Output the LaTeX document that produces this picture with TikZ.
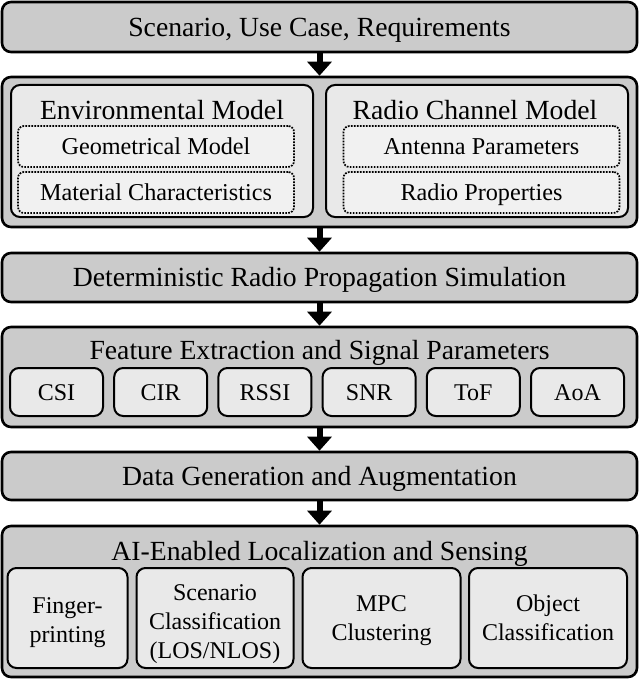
\documentclass[tikz,border=0pt]{standalone}
\usepackage{fontspec}
\setmainfont{Liberation Serif}
\usepackage{xcolor}
\usepackage{tikz}
\usetikzlibrary{arrows.meta,positioning}
\definecolor{stagegray}{RGB}{203,203,203}
\definecolor{cellgray}{RGB}{233,233,233}
\definecolor{dotgray}{RGB}{241,241,241}

\begin{document}
\begin{tikzpicture}[x=1pt, y=-1pt,
  stage/.style={draw=black, line width=2.6pt, fill=stagegray, rounded corners=9pt, inner sep=0pt,
    minimum width=635pt, text height=18.3pt, text depth=0pt, font=\fontsize{27.7}{32}\selectfont},
  heading/.style={inner sep=0pt, anchor=base, font=\fontsize{27.7}{32}\selectfont},
  cell/.style={draw=black, line width=2pt, fill=cellgray, rounded corners=9pt, inner sep=0pt,
    align=center, font=\fontsize{24}{29}\selectfont},
  onecell/.style={cell, text height=16pt, text depth=0pt},
  dotcell/.style={draw=black, line width=1.7pt, dash pattern=on 1.7pt off 1.3pt, fill=dotgray,
    rounded corners=6pt, inner sep=0pt, minimum width=276pt, minimum height=41pt,
    text height=16pt, text depth=0pt, font=\fontsize{24.2}{29}\selectfont},
  flow/.style={line width=6pt, -{Triangle[width=24pt,length=14pt]}}]
\useasboundingbox (0,0) rectangle (640,679);

\node[stage, minimum height=50pt] (scen) at (319.5,27) {Scenario, Use Case, Requirements};

\node[stage, minimum height=150pt] (models) at (319.5,152) {};
\node[cell, minimum width=302pt, minimum height=132pt] (env) at (162,151) {};
\node[heading] (envT) at (162,120) {Environmental Model};
\node[dotcell] (geo) at (156,146.5) {Geometrical Model};
\node[dotcell] (mat) at (156,192.5) {Material Characteristics};
\node[cell, minimum width=302pt, minimum height=132pt] (radio) at (477,151) {};
\node[heading] (radioT) at (475,120) {Radio Channel Model};
\node[dotcell] (ant) at (481.5,146.5) {Antenna Parameters};
\node[dotcell] (rprop) at (481.5,192.5) {Radio Properties};

\node[stage, minimum height=49pt] (sim) at (319.5,277.5) {Deterministic Radio Propagation Simulation};

\node[stage, minimum height=100pt] (feat) at (319.5,377) {};
\node[heading] (featT) at (319.5,359) {Feature Extraction and Signal Parameters};
\foreach \lbl [count=\i] in {CSI,CIR,RSSI,SNR,ToF,AoA}
  \node[onecell, minimum width=93pt, minimum height=48pt] (sig\i) at ({56.5+104.2*(\i-1)},392) {\lbl};

\node[stage, minimum height=48pt] (data) at (319.5,476) {Data Generation and Augmentation};

\node[stage, minimum height=151pt] (ai) at (319.5,601.5) {};
\node[heading] (aiT) at (319.5,560) {AI-Enabled Localization and Sensing};
\node[cell, minimum width=120pt, minimum height=100pt, text height=55pt] (finger) at (67.5,618) {Finger-\\printing};
\node[cell, minimum width=157pt, minimum height=100pt, text height=86pt] (scencls) at (215,618) {Scenario\\Classification\\(LOS/NLOS)};
\node[cell, minimum width=158pt, minimum height=100pt, text height=51pt] (mpc) at (381.5,618) {MPC\\Clustering};
\node[cell, minimum width=158pt, minimum height=100pt] (obj) at (548,618) {Object\\Classification};

\draw[flow] (scen) -- (models);
\draw[flow] (models) -- (sim);
\draw[flow] (sim) -- (feat);
\draw[flow] (feat) -- (data);
\draw[flow] (data) -- (ai);
\end{tikzpicture}
\end{document}
